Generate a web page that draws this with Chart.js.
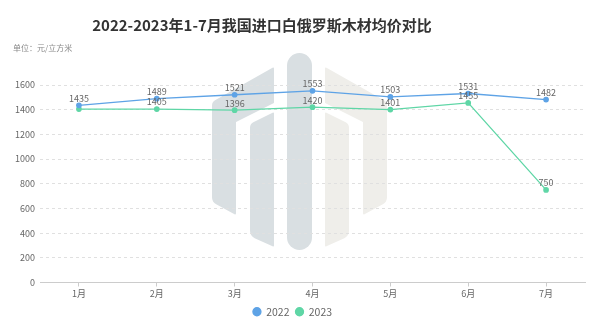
<!DOCTYPE html>
<html>
<head>
<meta charset="utf-8">
<script src="https://cdn.jsdelivr.net/npm/chart.js@4.4.1/dist/chart.umd.min.js"></script>
<style>
  html, body { margin: 0; padding: 0; background: #ffffff; }
  #wrap { width: 600px; height: 336px; position: relative; }
</style>
</head>
<body>
<div id="wrap"><canvas id="chart" width="600" height="336"></canvas></div>
<script>
// Monthly average import price of Belarusian timber (yuan per cubic metre)
const months = ['1月', '2月', '3月', '4月', '5月', '6月', '7月'];
const price2022 = [1435, 1489, 1521, 1553, 1503, 1531, 1482];
const price2023 = [1405, 1405, 1396, 1420, 1401, 1455, 750];
const yTicks = [0, 200, 400, 600, 800, 1000, 1200, 1400, 1600];

const FONT = '"Noto Sans CJK SC", "Noto Sans", sans-serif';
const BLUE = '#5ea3e6';
const GREEN = '#5fd6a6';

// Rounded polygon helper for the background emblem
function roundedPoly(ctx, pts, r) {
  const n = pts.length;
  ctx.beginPath();
  const mid = (a, b) => [(a[0] + b[0]) / 2, (a[1] + b[1]) / 2];
  const start = mid(pts[n - 1], pts[0]);
  ctx.moveTo(start[0], start[1]);
  for (let i = 0; i < n; i++) {
    const p = pts[i], q = pts[(i + 1) % n];
    const rr = Array.isArray(r) ? r[i] : r;
    ctx.arcTo(p[0], p[1], q[0], q[1], rr);
  }
  ctx.closePath();
  ctx.fill();
}

// Faint emblem drawn behind the plot
const emblem = {
  id: 'emblem',
  beforeDraw(chart) {
    const ctx = chart.ctx;
    ctx.save();
    const mirror = pts => pts.map(p => [599 - p[0], p[1]]);
    const outer = [[212, 102], [274, 67], [274, 103], [236, 122], [236, 215], [212, 202]];
    const outerR = [6, 1, 1, 1, 1, 8];
    const inner = [[250, 124], [274, 112], [274, 247], [250, 236]];
    const innerR = [6, 1, 1, 8];
    ctx.fillStyle = '#d9dfe2';
    roundedPoly(ctx, outer, outerR);
    roundedPoly(ctx, inner, innerR);
    // centre pillar
    ctx.beginPath();
    ctx.roundRect(287, 53, 25, 197, 12.5);
    ctx.fill();
    ctx.fillStyle = '#efeeea';
    roundedPoly(ctx, mirror(outer).reverse(), outerR.slice().reverse());
    roundedPoly(ctx, mirror(inner).reverse(), innerR.slice().reverse());
    ctx.restore();
  }
};

// Title and unit note
const headings = {
  id: 'headings',
  afterDraw(chart) {
    const ctx = chart.ctx;
    ctx.save();
    ctx.fillStyle = '#333333';
    ctx.font = 'bold 15px ' + FONT;
    ctx.textAlign = 'center';
    ctx.textBaseline = 'middle';
    ctx.fillText('2022-2023年1-7月我国进口白俄罗斯木材均价对比', 262, 25);
    ctx.fillStyle = '#8a8a8a';
    ctx.font = '8px ' + FONT;
    ctx.textAlign = 'left';
    ctx.fillText('单位：元/立方米', 13, 48);
    ctx.restore();
  }
};

// Value labels above each point; a label that would sit almost on top of
// one already drawn is skipped
const valueLabels = {
  id: 'valueLabels',
  afterDatasetsDraw(chart) {
    const ctx = chart.ctx;
    ctx.save();
    ctx.fillStyle = '#666666';
    ctx.font = '9px ' + FONT;
    ctx.textAlign = 'center';
    ctx.textBaseline = 'middle';
    const placed = [];
    chart.data.datasets.forEach((ds, i) => {
      chart.getDatasetMeta(i).data.forEach((pt, j) => {
        const x = pt.x, y = pt.y - 7;
        const clash = placed.some(p => Math.abs(p.x - x) < 20 && Math.abs(p.y - y) < 6);
        if (clash) return;
        placed.push({ x, y });
        ctx.fillText(String(ds.data[j]), x, y);
      });
    });
    ctx.restore();
  }
};

new Chart(document.getElementById('chart'), {
  type: 'line',
  data: {
    labels: months,
    datasets: [
      {
        label: '2022', data: price2022,
        borderColor: BLUE, backgroundColor: BLUE,
        borderWidth: 1.3, pointRadius: 2.2, pointHoverRadius: 2.2,
        pointStyle: 'circle', tension: 0
      },
      {
        label: '2023', data: price2023,
        borderColor: GREEN, backgroundColor: GREEN,
        borderWidth: 1.3, pointRadius: 2.2, pointHoverRadius: 2.2,
        pointStyle: 'circle', tension: 0
      }
    ]
  },
  options: {
    responsive: false,
    animation: false,
    events: [],
    layout: { padding: { top: 85, left: 0, right: 15, bottom: 9 } },
    scales: {
      x: {
        type: 'category',
        offset: true,
        grid: { drawOnChartArea: false, drawTicks: true, tickLength: 4, offset: false, color: '#cccccc' },
        border: { display: true, color: '#cccccc', width: 1 },
        ticks: { color: '#666666', font: { family: FONT, size: 9 }, padding: 2, maxRotation: 0 },
        afterFit(scale) { scale.height = 18; }
      },
      y: {
        min: 0, max: 1600,
        afterBuildTicks(scale) { scale.ticks = yTicks.map(v => ({ value: v })); },
        grid: { color: '#e0e0e0', drawTicks: false },
        border: { display: false, dash: [3, 3] },
        ticks: {
          color: '#666666', font: { family: FONT, size: 9 }, padding: 5,
          callback: v => String(v)
        },
        afterFit(scale) { scale.width = 40; }
      }
    },
    plugins: {
      legend: {
        position: 'bottom',
        labels: {
          usePointStyle: true, boxWidth: 8, boxHeight: 5.66,
          color: '#666666', font: { family: FONT, size: 10.5 }, padding: 6
        }
      },
      title: { display: false },
      tooltip: { enabled: false }
    }
  },
  plugins: [emblem, headings, valueLabels]
});
</script>
</body>
</html>
